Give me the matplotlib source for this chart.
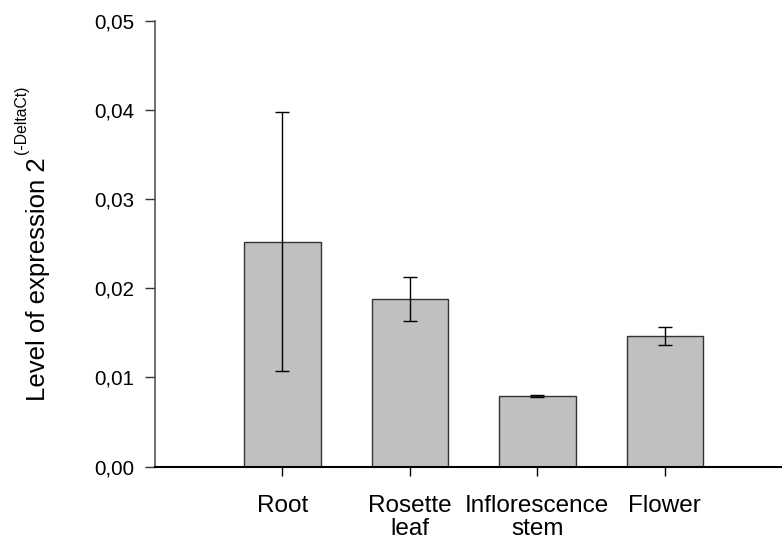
import numpy as np
from matplotlib import pyplot as plt
from matplotlib.ticker import FuncFormatter

plt.rcParams['font.family'] = ['Liberation Sans', 'DejaVu Sans']

# tissue expression data
tissues = ['Root', 'Rosette\nleaf', 'Inflorescence\nstem', 'Flower']
expr = [0.0252, 0.0188, 0.0079, 0.0146]
err = [0.0145, 0.0025, 0.0001, 0.0010]

W, H = 782, 543
fig = plt.figure(figsize=(W / 100, H / 100), dpi=100)
ax = fig.add_axes([0.1982, 0.1405, 0.8018, 0.8217])

x = np.arange(len(tissues))
ax.bar(x, expr, width=0.6, color='#c0c0c0', edgecolor='#333333', linewidth=1.0, zorder=2)
ax.errorbar(x, expr, yerr=err, fmt='none', ecolor='black', elinewidth=1.0,
            capsize=4.7, capthick=1.0, zorder=3)

ax.set_xlim(-1, 3.92)
ax.set_ylim(0, 0.05)
ax.set_yticks(np.arange(0, 0.051, 0.01))
ax.yaxis.set_major_formatter(FuncFormatter(lambda v, p: ('%.2f' % v).replace('.', ',')))
ax.set_xticks(x)
ax.set_xticklabels(tissues, fontsize=17.5, linespacing=1.05)
ax.tick_params(axis='y', labelsize=14.8, length=7, width=1, pad=8, color='#333333')
ax.tick_params(axis='x', length=6.5, width=1, pad=14)

ax.spines['top'].set_visible(False)
ax.spines['right'].set_visible(False)
ax.spines['left'].set_color('#555555')
ax.spines['left'].set_linewidth(1.2)
ax.spines['bottom'].set_linewidth(1.5)

# y label with a smaller superscript, placed as two rotated texts
fig.text(45 / W, 1 - 401 / H, 'Level of expression 2', fontsize=18.5, rotation=90,
         rotation_mode='anchor', ha='left', va='baseline')
fig.text(26 / W, 1 - 154 / H, '(-DeltaCt)', fontsize=11.3, rotation=90,
         rotation_mode='anchor', ha='left', va='baseline')

fig.savefig('out.png', dpi=100)
